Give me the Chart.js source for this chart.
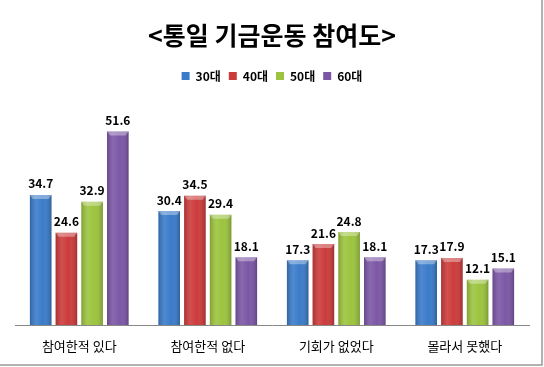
<!DOCTYPE html>
<html>
<head>
<meta charset="utf-8">
<script src="https://cdn.jsdelivr.net/npm/chart.js@4/dist/chart.umd.min.js"></script>
<style>
  html, body { margin: 0; padding: 0; background: #fff; }
  #wrap { width: 544px; height: 367px; position: relative; }
</style>
</head>
<body>
<div id="wrap"><canvas id="myChart"></canvas></div>
<script>
var categories = ["참여한적 있다", "참여한적 없다", "기회가 없었다", "몰라서 못했다"];
var seriesNames = ["30대", "40대", "50대", "60대"];
var v30 = [34.7, 30.4, 17.3, 17.3];
var v40 = [24.6, 34.5, 21.6, 17.9];
var v50 = [32.9, 29.4, 24.8, 12.1];
var v60 = [51.6, 18.1, 18.1, 15.1];
var barColors = ["#3a7bc9", "#cc3b3b", "#9cc43e", "#7c57a6"];

var FONT = "'Noto Sans CJK KR', 'Noto Sans', sans-serif";

// shading on top of the bars, plus value labels
var barDecor = {
  id: "barDecor",
  afterDatasetsDraw: function (chart) {
    var ctx = chart.ctx;
    ctx.save();
    chart.data.datasets.forEach(function (ds, i) {
      chart.getDatasetMeta(i).data.forEach(function (bar) {
        var l = bar.x - bar.width / 2, r = bar.x + bar.width / 2;
        var g = ctx.createLinearGradient(l, 0, r, 0);
        g.addColorStop(0, "rgba(0,0,0,0.18)");
        g.addColorStop(0.3, "rgba(255,255,255,0.10)");
        g.addColorStop(0.6, "rgba(255,255,255,0)");
        g.addColorStop(1, "rgba(0,0,0,0.22)");
        ctx.fillStyle = g;
        ctx.fillRect(l, bar.y, bar.width, bar.base - bar.y);
        ctx.fillStyle = "rgba(255,255,255,0.35)";
        ctx.beginPath();
        ctx.moveTo(l, bar.y);
        ctx.lineTo(r, bar.y);
        ctx.lineTo(r - 3, bar.y + 4);
        ctx.lineTo(l + 3, bar.y + 4);
        ctx.closePath();
        ctx.fill();
      });
    });
    ctx.font = "bold 12px " + FONT;
    ctx.fillStyle = "#000";
    ctx.textAlign = "center";
    ctx.textBaseline = "bottom";
    chart.data.datasets.forEach(function (ds, i) {
      chart.getDatasetMeta(i).data.forEach(function (bar, j) {
        ctx.fillText(ds.data[j].toFixed(1), bar.x, bar.y - 5);
      });
    });
    ctx.restore();
  }
};

// gray frame on the right and bottom
var frame = {
  id: "frame",
  afterDraw: function (chart) {
    var ctx = chart.ctx;
    ctx.save();
    ctx.strokeStyle = "#999";
    ctx.lineWidth = 1.5;
    ctx.beginPath();
    ctx.moveTo(0, 365);
    ctx.lineTo(542, 365);
    ctx.lineTo(542, 0);
    ctx.stroke();
    ctx.restore();
  }
};

// extra room under the legend
var legendGap = {
  id: "legendGap",
  beforeInit: function (chart) {
    var fit = chart.legend.fit;
    chart.legend.fit = function () {
      fit.bind(chart.legend)();
      this.height += 8;
    };
  }
};

var allValues = [v30, v40, v50, v60];

new Chart("myChart", {
  type: "bar",
  data: {
    labels: categories,
    datasets: seriesNames.map(function (name, i) {
      return {
        label: name,
        data: allValues[i],
        backgroundColor: barColors[i],
        categoryPercentage: 0.8,
        barPercentage: 0.84
      };
    })
  },
  options: {
    responsive: true,
    maintainAspectRatio: false,
    animation: false,
    layout: { padding: { left: 15, right: 15, top: 0, bottom: 0 } },
    plugins: {
      title: {
        display: true,
        text: "<통일 기금운동 참여도>",
        color: "#000",
        font: { family: FONT, size: 25, weight: "bold" },
        padding: { top: 20, bottom: 12 }
      },
      legend: {
        position: "top",
        labels: {
          color: "#000",
          font: { family: FONT, size: 12, weight: "bold" },
          boxWidth: 8,
          boxHeight: 8,
          padding: 8
        }
      },
      tooltip: { enabled: false }
    },
    scales: {
      x: {
        grid: { display: false },
        border: { display: true, color: "#888", width: 1 },
        ticks: {
          color: "#000",
          font: { family: FONT, size: 13 },
          padding: 5
        },
        afterFit: function (scale) { scale.height = 42; }
      },
      y: {
        display: false,
        min: 0,
        max: 60
      }
    }
  },
  plugins: [barDecor, frame, legendGap]
});
</script>
</body>
</html>
